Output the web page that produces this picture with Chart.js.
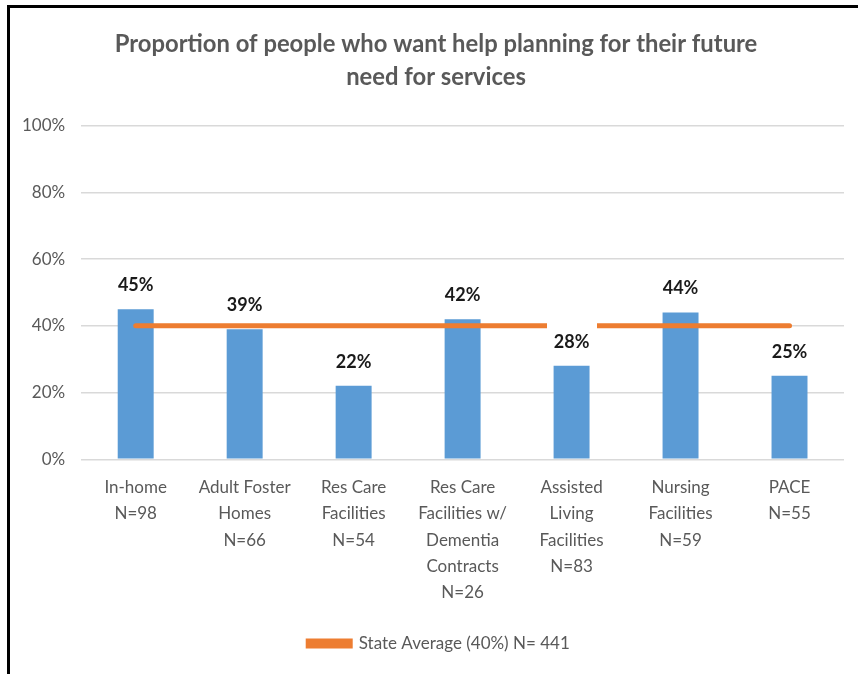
<!DOCTYPE html>
<html>
<head>
<meta charset="utf-8">
<script src="https://cdn.jsdelivr.net/npm/chart.js@4/dist/chart.umd.min.js"></script>
<style>
  html, body { margin: 0; padding: 0; background: #fff; }
  #frame {
    position: absolute; left: 7px; top: 5px; width: 851px; height: 669px;
    border-top: 3px solid #000; border-left: 3px solid #000;
  }
  #box { position: absolute; left: 0; top: 0; width: 848px; height: 666px; }
</style>
</head>
<body>
<div id="frame"><div id="box"><canvas id="chart"></canvas></div></div>
<script>
// Share of people wanting help planning for future service needs
const categories = [
  ['In-home', 'N=98'],
  ['Adult Foster', 'Homes', 'N=66'],
  ['Res Care', 'Facilities', 'N=54'],
  ['Res Care', 'Facilities w/', 'Dementia', 'Contracts', 'N=26'],
  ['Assisted', 'Living', 'Facilities', 'N=83'],
  ['Nursing', 'Facilities', 'N=59'],
  ['PACE', 'N=55']
];
const wantHelp = [45, 39, 22, 42, 28, 44, 25];
const stateAverage = [40, 40, 40, 40, 40, 40, 40];
const yTicks = [0, 20, 40, 60, 80, 100];

const FONT = 'Lato, "Open Sans", sans-serif';
const GREY = '#595959';

// small white strip that breaks the average line above the Assisted Living bar
const gap = document.createElement('canvas');
gap.width = 50; gap.height = 14;
const g = gap.getContext('2d');
g.fillStyle = '#fff';
g.fillRect(0, 0, gap.width, gap.height);

// value labels above each bar
const barLabels = {
  id: 'barLabels',
  afterDatasetsDraw(chart) {
    const ctx = chart.ctx;
    const meta = chart.getDatasetMeta(1);
    ctx.save();
    ctx.font = 'bold 18px ' + FONT;
    ctx.fillStyle = '#1a1a1a';
    ctx.textAlign = 'center';
    ctx.textBaseline = 'middle';
    meta.data.forEach((bar, i) => {
      ctx.fillText(wantHelp[i] + '%', bar.x, bar.y - 24);
    });
    ctx.restore();
  }
};

// nudge title and legend a little to the right of the canvas centre
const blockShift = {
  id: 'blockShift',
  afterLayout(chart) {
    chart.titleBlock.left += 11;
    chart.titleBlock.right += 11;
    chart.legend.left += 14;
    chart.legend.right += 14;
  }
};

new Chart(document.getElementById('chart'), {
  data: {
    labels: categories,
    datasets: [
      {
        type: 'line',
        label: 'State Average (40%) N= 441',
        data: stateAverage,
        borderColor: '#ED7D31',
        backgroundColor: '#ED7D31',
        borderWidth: 5,
        borderCapStyle: 'round',
        pointStyle: [gap, gap, gap, gap, gap, gap, gap],
        pointRadius: [0, 0, 0, 0, 1, 0, 0],
        pointBorderWidth: 0,
        order: 0
      },
      {
        type: 'bar',
        label: 'Want help planning',
        data: wantHelp,
        backgroundColor: '#5B9BD5',
        barPercentage: 0.33,
        categoryPercentage: 1,
        order: 1
      }
    ]
  },
  options: {
    responsive: true,
    maintainAspectRatio: false,
    animation: false,
    events: [],
    layout: { padding: { left: -4, right: 14, top: 20, bottom: 12 } },
    plugins: {
      title: {
        display: true,
        text: ['Proportion of people who want help planning for their future', 'need for services'],
        color: GREY,
        font: { family: FONT, size: 23.8, weight: 'bold', lineHeight: 1.38 },
        padding: { top: 0, bottom: 32 }
      },
      legend: {
        position: 'bottom',
        labels: {
          filter: item => item.datasetIndex === 0,
          color: GREY,
          font: { family: FONT, size: 17 },
          boxWidth: 42,
          boxHeight: 5,
          padding: 4
        }
      },
      tooltip: { enabled: false }
    },
    scales: {
      x: {
        grid: { display: false },
        border: { display: false },
        afterFit: axis => { axis.height += 18; },
        ticks: {
          color: GREY,
          font: { family: FONT, size: 17, lineHeight: 1.55 },
          maxRotation: 0,
          autoSkip: false,
          padding: 7
        }
      },
      y: {
        min: 0,
        max: 100,
        afterBuildTicks: axis => { axis.ticks = yTicks.map(v => ({ value: v })); },
        grid: { color: '#d9d9d9', lineWidth: 1.5, drawTicks: false },
        border: { display: false },
        ticks: {
          color: GREY,
          font: { family: FONT, size: 17 },
          padding: 16,
          callback: v => v + '%'
        }
      }
    }
  },
  plugins: [barLabels, blockShift]
});
</script>
</body>
</html>
